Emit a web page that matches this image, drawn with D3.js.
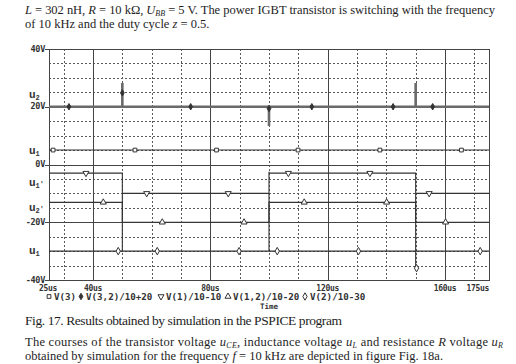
<!DOCTYPE html>
<html>
<head>
<meta charset="utf-8">
<script src="https://cdn.jsdelivr.net/npm/d3@7"></script>
<style>
  body { margin: 0; background: #fff; }
  svg { display: block; }
  .pspice { font-family: "DejaVu Sans Mono", monospace; font-weight: bold; fill: #333; }
  .prose { font-family: "Liberation Serif", serif; fill: #1e1e1e; }
</style>
</head>
<body>
<div id="chart"></div>
<script>
// axis domains and tick labels
var timeTicks = [25, 40, 80, 120, 160, 175];
var voltTicks = [-40, -20, 0, 20, 40];
var traceNames = ["V(3)", "V(3,2)/10+20", "V(1)/10-10", "V(1,2)/10-20", "V(2)/10-30"];

// side labels: [text, subscript, prime, value]
var sideLabels = [["u", "2", "", 24], ["u", "1", "", 4.6], ["u", "1", "'", -6.5], ["u", "2", "'", -15], ["u", "1", "", -30]];

// traces as [time us, value V]
var v3 = [[25, 5], [175, 5]];
var v32 = [[25, 20], [50, 20], [50, 28.2], [50, 20], [100, 20], [100, 13.3], [100, 20], [150, 20], [150, 28.2], [150, 20], [175, 20]];
var v1 = [[25, -3], [50, -3], [50, -10], [100, -10], [100, -2.5], [100, -3], [150, -3], [150, -10], [175, -10]];
var v12 = [[25, -13.1], [50, -13.1], [50, -20], [100, -20], [100, -13.1], [150, -13.1], [150, -20], [175, -20]];
var v2 = [[25, -30], [50, -30], [50, -10], [50, -30], [100, -30], [100, -10], [100, -30], [150, -30], [150, -10], [150, -36.5], [150, -30], [175, -30]];

// marker points
var v3Marks = [[26.4, 5], [54.3, 5], [82.1, 5], [109.9, 5], [137.8, 5], [165.6, 5]];
var v32Marks = [[31.8, 20], [50, 24.8], [73.3, 20], [100, 19.4], [114.6, 20], [142.3, 20], [155.8, 20]];
var v1Marks = [[37.6, -3], [58.3, -10], [86.1, -10], [106.6, -3], [134.4, -3], [154.6, -10]];
var v12Marks = [[43.5, -13.1], [63.6, -20], [91.5, -20], [112, -13.1], [140.1, -13.1], [160.2, -20]];
var v2Marks = [[48.6, -30], [61.9, -30], [89.8, -30], [102.8, -30], [130.5, -30], [150.3, -35.9], [172, -30]];

var width = 516, height = 364;
var plotLeft = 49, plotRight = 489, plotTop = 49, plotBottom = 280;

var svg = d3.select("#chart").append("svg")
    .attr("width", width)
    .attr("height", height);

var x = d3.scaleLinear().domain([25, 175]).range([plotLeft, plotRight]);
var y = d3.scaleLinear().domain([-40, 40]).range([plotBottom, plotTop]);

// text above the chart
var line1 = svg.append("text").attr("class", "prose")
    .attr("x", 25).attr("y", 14).attr("font-size", 12.5)
    .attr("textLength", 470).attr("lengthAdjust", "spacing");
line1.append("tspan").attr("font-style", "italic").text("L");
line1.append("tspan").text(" = 302 nH, ");
line1.append("tspan").attr("font-style", "italic").text("R");
line1.append("tspan").text(" = 10 k\u03A9, ");
line1.append("tspan").attr("font-style", "italic").text("U");
line1.append("tspan").attr("font-style", "italic").attr("font-size", 8).attr("dy", 2).text("BB");
line1.append("tspan").attr("dy", -2).text(" = 5 V. The power IGBT transistor is switching with the frequency");

var line2 = svg.append("text").attr("class", "prose")
    .attr("x", 25).attr("y", 28).attr("font-size", 12.5);
line2.append("tspan").text("of 10 kHz and the duty cycle ");
line2.append("tspan").attr("font-style", "italic").text("z");
line2.append("tspan").text(" = 0.5.");

// grid
var minorT = d3.range(30, 175, 10).filter(function(t) { return t % 40 != 0; });
var majorT = [40, 80, 120, 160];
var minorV = d3.range(-35, 40, 5).filter(function(v) { return v % 20 != 0; });
var majorV = [-20, 0, 20];

var grid = svg.append("g");
grid.selectAll(".mt").data(minorT).enter().append("line")
    .attr("x1", function(d) { return Math.round(x(d)) + 0.5; }).attr("x2", function(d) { return Math.round(x(d)) + 0.5; })
    .attr("y1", plotTop).attr("y2", plotBottom)
    .attr("stroke", "#5a5a5a").attr("stroke-dasharray", "2,2");
grid.selectAll(".mv").data(minorV).enter().append("line")
    .attr("y1", function(d) { return Math.round(y(d)) + 0.5; }).attr("y2", function(d) { return Math.round(y(d)) + 0.5; })
    .attr("x1", plotLeft).attr("x2", plotRight)
    .attr("stroke", "#5a5a5a").attr("stroke-dasharray", "2,2");
grid.selectAll(".jt").data(majorT).enter().append("line")
    .attr("x1", function(d) { return Math.round(x(d)) + 0.5; }).attr("x2", function(d) { return Math.round(x(d)) + 0.5; })
    .attr("y1", plotTop).attr("y2", plotBottom)
    .attr("stroke", "#444");
grid.selectAll(".jv").data(majorV).enter().append("line")
    .attr("y1", function(d) { return Math.round(y(d)) + 0.5; }).attr("y2", function(d) { return Math.round(y(d)) + 0.5; })
    .attr("x1", plotLeft).attr("x2", plotRight)
    .attr("stroke", "#444");

// frame
svg.append("rect")
    .attr("x", plotLeft + 0.5).attr("y", plotTop + 0.5)
    .attr("width", plotRight - plotLeft).attr("height", plotBottom - plotTop)
    .attr("fill", "none").attr("stroke", "#444");

// traces
var line = d3.line()
    .x(function(d) { return x(d[0]); })
    .y(function(d) { return y(d[1]); });

var traces = [v3, v32, v1, v12, v2];
traces.forEach(function(data, i) {
    svg.append("path")
        .datum(data)
        .attr("d", line)
        .attr("fill", "none")
        .attr("stroke", i == 1 ? "#6a6a6a" : "#333")
        .attr("stroke-width", i == 1 ? 2.6 : 1.1);
});

// markers
var shapes = [
    { type: d3.symbolSquare, size: 14, rot: 0, fill: "#fff" },
    { type: d3.symbolDiamond, size: 12, rot: 0, fill: "#333" },
    { type: d3.symbolTriangle, size: 16, rot: 180, fill: "#fff" },
    { type: d3.symbolTriangle, size: 16, rot: 0, fill: "#fff" },
    { type: d3.symbolDiamond, size: 16, rot: 0, fill: "#fff" }
];
var marks = [v3Marks, v32Marks, v1Marks, v12Marks, v2Marks];
marks.forEach(function(data, i) {
    var s = shapes[i];
    svg.selectAll(".m" + i).data(data).enter().append("path")
        .attr("d", d3.symbol().type(s.type).size(s.size))
        .attr("transform", function(d) { return "translate(" + x(d[0]) + "," + y(d[1]) + ") rotate(" + s.rot + ")"; })
        .attr("fill", s.fill)
        .attr("stroke", "#333")
        .attr("stroke-width", 1);
});

// y ticks and labels
svg.selectAll(".yt").data(voltTicks).enter().append("line")
    .attr("x1", 45).attr("x2", plotLeft)
    .attr("y1", function(d) { return Math.round(y(d)) + 0.5; })
    .attr("y2", function(d) { return Math.round(y(d)) + 0.5; })
    .attr("stroke", "#444");
svg.selectAll(".yl").data(voltTicks).enter().append("text")
    .attr("class", "pspice")
    .attr("x", 45).attr("y", function(d) { return y(d) + 2.5; })
    .attr("text-anchor", "end").attr("font-size", 8.5)
    .attr("letter-spacing", -0.3)
    .text(function(d) { return d + "V"; });

var side = svg.selectAll(".ul").data(sideLabels).enter().append("text")
    .attr("x", 44).attr("y", function(d) { return y(d[3]) + 3; })
    .attr("text-anchor", "end")
    .attr("font-family", "Liberation Mono, monospace").attr("font-weight", "bold")
    .attr("font-size", 11).attr("fill", "#333");
side.append("tspan").text(function(d) { return d[0]; });
side.append("tspan").attr("font-size", 7).attr("dy", 2).text(function(d) { return d[1]; });
side.append("tspan").attr("font-size", 7).attr("dy", -2).text(function(d) { return d[2] ? d[2] : "\u00a0"; });

// x tick labels
svg.selectAll(".xl").data(timeTicks).enter().append("text")
    .attr("class", "pspice")
    .attr("x", function(d, i) { return i == 0 ? 39 : x(d); })
    .attr("y", 290.5)
    .attr("font-size", 8).attr("letter-spacing", -0.3)
    .attr("text-anchor", function(d, i) {
        if (i == 0) return "start";
        return i == timeTicks.length - 1 ? "end" : "middle";
    })
    .text(function(d) { return d + "us"; });

// legend
var legendX = [49, 81, 161, 228, 305];
traceNames.forEach(function(name, i) {
    var s = shapes[i];
    svg.append("path")
        .attr("d", d3.symbol().type(s.type).size(s.size))
        .attr("transform", "translate(" + legendX[i] + ",296.5) rotate(" + s.rot + ")")
        .attr("fill", s.fill).attr("stroke", "#333");
    svg.append("text").attr("class", "pspice")
        .attr("x", legendX[i] + 5).attr("y", 300)
        .attr("font-size", 9.2)
        .text(name);
});
svg.append("text").attr("class", "pspice")
    .attr("x", (plotLeft + plotRight) / 2).attr("y", 309)
    .attr("text-anchor", "middle").attr("font-size", 7.5)
    .text("Time");

// caption and following text
svg.append("text").attr("class", "prose")
    .attr("x", 25).attr("y", 325).attr("font-size", 13.5)
    .attr("textLength", 317).attr("lengthAdjust", "spacing")
    .text("Fig. 17. Results obtained by simulation in the PSPICE program");

var p1 = svg.append("text").attr("class", "prose")
    .attr("x", 25).attr("y", 346).attr("font-size", 12.5)
    .attr("textLength", 478).attr("lengthAdjust", "spacing");
p1.append("tspan").text("The courses of the transistor voltage ");
p1.append("tspan").attr("font-style", "italic").text("u");
p1.append("tspan").attr("font-style", "italic").attr("font-size", 8).attr("dy", 2).text("CE");
p1.append("tspan").attr("dy", -2).text(", inductance voltage ");
p1.append("tspan").attr("font-style", "italic").text("u");
p1.append("tspan").attr("font-style", "italic").attr("font-size", 8).attr("dy", 2).text("L");
p1.append("tspan").attr("dy", -2).text(" and resistance ");
p1.append("tspan").attr("font-style", "italic").text("R");
p1.append("tspan").text(" voltage ");
p1.append("tspan").attr("font-style", "italic").text("u");
p1.append("tspan").attr("font-style", "italic").attr("font-size", 8).attr("dy", 2).text("R");

var p2 = svg.append("text").attr("class", "prose")
    .attr("x", 25).attr("y", 360).attr("font-size", 12.5)
    .attr("textLength", 418).attr("lengthAdjust", "spacing");
p2.append("tspan").text("obtained by simulation for the frequency ");
p2.append("tspan").attr("font-style", "italic").text("f");
p2.append("tspan").text(" = 10 kHz are depicted in figure Fig. 18a.");
</script>
</body>
</html>
